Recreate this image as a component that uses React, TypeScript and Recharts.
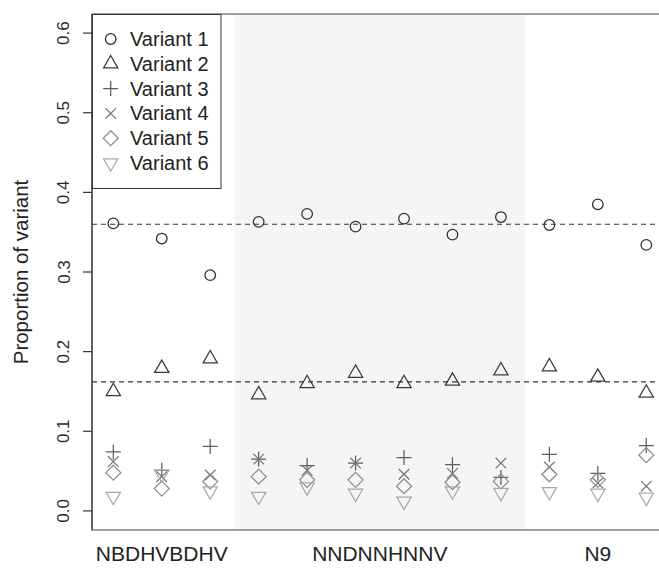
import React from "react"
import {
  ScatterChart,
  Scatter,
  XAxis,
  YAxis,
  ReferenceArea,
  ReferenceLine,
  Legend,
} from "recharts"

// sample positions along the x axis, grouped by design
const sampleIndex = [1, 2, 3, 4, 5, 6, 7, 8, 9, 10, 11, 12]
const groupLabels = ["NBDHVBDHV", "NNDNNHNNV", "N9"]
const groupSizes = [3, 6, 3]
const shadedGroup = 1

const variantNames = ["Variant 1", "Variant 2", "Variant 3", "Variant 4", "Variant 5", "Variant 6"]
const variant1 = [0.361, 0.342, 0.296, 0.363, 0.373, 0.357, 0.367, 0.347, 0.369, 0.359, 0.385, 0.334]
const variant2 = [0.15, 0.179, 0.191, 0.146, 0.16, 0.173, 0.16, 0.163, 0.176, 0.181, 0.168, 0.148]
const variant3 = [0.074, 0.051, 0.081, 0.065, 0.057, 0.06, 0.067, 0.058, 0.042, 0.071, 0.047, 0.082]
const variant4 = [0.062, 0.043, 0.045, 0.065, 0.051, 0.06, 0.046, 0.047, 0.06, 0.055, 0.035, 0.031]
const variant5 = [0.048, 0.028, 0.037, 0.043, 0.039, 0.039, 0.031, 0.036, 0.037, 0.046, 0.039, 0.07]
const variant6 = [0.018, 0.046, 0.025, 0.018, 0.03, 0.022, 0.012, 0.025, 0.023, 0.024, 0.022, 0.017]

// reference (mean) levels drawn as dashed lines
const meanLevels = [0.36, 0.162]
const yTicks = [0, 0.1, 0.2, 0.3, 0.4, 0.5, 0.6]

const FONT = '"Liberation Sans", Arial, Helvetica, sans-serif'
const X_DOMAIN = [0.56, 12.44]
const Y_DOMAIN = [-0.024, 0.624]

const markerKinds = ["circle", "up", "plus", "cross", "diamond", "down"]
const markerColors = ["#2e2e2e", "#3a3a3a", "#5e5e5e", "#777777", "#8c8c8c", "#a8a8a8"]

const allVariants = [variant1, variant2, variant3, variant4, variant5, variant6]

// group boundaries / centres from group sizes
const groupStarts: number[] = []
groupSizes.reduce((acc, n) => {
  groupStarts.push(acc)
  return acc + n
}, 0)
const groupCenters = groupStarts.map((s, i) => s + (groupSizes[i] + 1) / 2)
const shadeFrom = groupStarts[shadedGroup] + 0.5
const shadeTo = groupStarts[shadedGroup] + groupSizes[shadedGroup] + 0.5

function Marker({ kind, cx, cy, color }: { kind: string; cx: number; cy: number; color: string }) {
  const R = 5.3
  const sw = 1.25
  const common = { fill: "none", stroke: color, strokeWidth: sw }
  if (kind === "circle") return <circle cx={cx} cy={cy} r={R} {...common} />
  if (kind === "up" || kind === "down") {
    const s = kind === "up" ? 1 : -1
    const h = 1.5551 * R
    const b = 0.7776 * R
    const w = 1.3468 * R
    return (
      <path
        d={`M${cx},${cy - s * h}L${cx + w},${cy + s * b}L${cx - w},${cy + s * b}Z`}
        {...common}
      />
    )
  }
  if (kind === "plus") {
    const a = 1.4142 * R
    return <path d={`M${cx - a},${cy}H${cx + a}M${cx},${cy - a}V${cy + a}`} {...common} />
  }
  if (kind === "cross") {
    const a = R
    return (
      <path
        d={`M${cx - a},${cy - a}L${cx + a},${cy + a}M${cx - a},${cy + a}L${cx + a},${cy - a}`}
        {...common}
      />
    )
  }
  const a = 1.4142 * R
  return (
    <path d={`M${cx},${cy - a}L${cx + a},${cy}L${cx},${cy + a}L${cx - a},${cy}Z`} {...common} />
  )
}

function LegendBox() {
  return (
    <svg width={130} height={176} style={{ display: "block" }}>
      <rect x={0.5} y={0.5} width={128.5} height={174} fill="#ffffff" stroke="#333333" strokeWidth={1} />
      {variantNames.map((name, i) => {
        const cy = 25 + i * 24.8
        return (
          <g key={name}>
            <Marker kind={markerKinds[i]} cx={18.7} cy={cy} color={markerColors[i]} />
            <text x={38} y={cy + 7} fontSize={20} fontFamily={FONT} fill="#222222">
              {name}
            </text>
          </g>
        )
      })}
    </svg>
  )
}

export default function App() {
  const series = allVariants.map((vals) => sampleIndex.map((x, i) => ({ x, y: vals[i] })))

  return (
    <div
      style={{
        position: "fixed",
        left: 0,
        top: 0,
        width: 659,
        height: 569,
        overflow: "hidden",
        background: "#ffffff",
      }}
    >
      <ScatterChart width={680} height={569} margin={{ top: 14, right: 12.4, bottom: 0, left: 0 }}>
        <XAxis
          type="number"
          dataKey="x"
          domain={X_DOMAIN}
          allowDataOverflow
          ticks={groupCenters}
          axisLine={false}
          tickLine={false}
          tickSize={0}
          tickMargin={0}
          height={39}
          interval={0}
          tick={(props: any) => (
            <text
              x={props.x}
              y={props.y + 31}
              textAnchor="middle"
              fontSize={21}
              fontFamily={FONT}
              fill="#222222"
            >
              {groupLabels[groupCenters.indexOf(props.payload.value)]}
            </text>
          )}
        />
        <YAxis
          type="number"
          dataKey="y"
          domain={Y_DOMAIN}
          allowDataOverflow
          ticks={yTicks}
          interval={0}
          width={92}
          tickSize={9}
          axisLine={{ stroke: "#333333", strokeWidth: 1.2 }}
          tickLine={{ stroke: "#333333", strokeWidth: 1.2 }}
          tick={(props: any) => (
            <text
              x={69.5}
              y={props.y}
              transform={`rotate(-90, 69.5, ${props.y})`}
              textAnchor="middle"
              fontSize={17}
              fontFamily={FONT}
              fill="#2a2a2a"
            >
              {Number(props.payload.value).toFixed(1)}
            </text>
          )}
          label={{
            content: (p: any) => {
              const vb = p.viewBox || { y: 14, height: 516 }
              const cy = vb.y + vb.height / 2
              return (
                <text
                  x={28}
                  y={cy}
                  transform={`rotate(-90, 28, ${cy})`}
                  textAnchor="middle"
                  fontSize={20.5}
                  fontFamily={FONT}
                  fill="#222222"
                >
                  Proportion of variant
                </text>
              )
            },
          }}
        />
        <ReferenceArea
          x1={shadeFrom}
          x2={shadeTo}
          y1={Y_DOMAIN[0]}
          y2={Y_DOMAIN[1]}
          fill="#f5f5f5"
          fillOpacity={1}
          stroke="none"
        />
        {meanLevels.map((m) => (
          <ReferenceLine key={m} y={m} stroke="#333333" strokeWidth={1.1} strokeDasharray="5 4" />
        ))}
        <ReferenceArea
          x1={X_DOMAIN[0]}
          x2={X_DOMAIN[1]}
          y1={Y_DOMAIN[0]}
          y2={Y_DOMAIN[1]}
          fill="none"
          stroke="#808080"
          strokeWidth={1.3}
        />
        {series.map((data, k) => (
          <Scatter
            key={variantNames[k]}
            name={variantNames[k]}
            data={data}
            isAnimationActive={false}
            shape={(p: any) => (
              <Marker kind={markerKinds[k]} cx={p.cx} cy={p.cy} color={markerColors[k]} />
            )}
          />
        ))}
        <Legend
          layout="horizontal"
          verticalAlign="middle"
          align="center"
          wrapperStyle={{ left: 92, top: 14, width: 130, height: 176 }}
          content={() => <LegendBox />}
        />
      </ScatterChart>
    </div>
  )
}
